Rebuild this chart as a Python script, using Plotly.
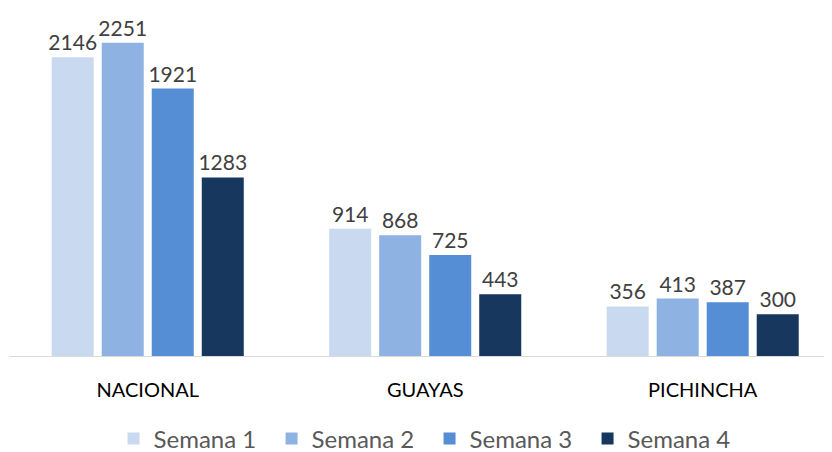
import plotly.graph_objects as go

categories = ["NACIONAL", "GUAYAS", "PICHINCHA"]
series_names = ["Semana 1", "Semana 2", "Semana 3", "Semana 4"]
semana_1 = [2146, 914, 356]
semana_2 = [2251, 868, 413]
semana_3 = [1921, 725, 387]
semana_4 = [1283, 443, 300]

colors = ["#C9D9F0", "#8EB3E3", "#558ED5", "#17375E"]
font_family = "Lato, 'Open Sans', sans-serif"

fig = go.Figure()
for name, values, color in zip(
    series_names, [semana_1, semana_2, semana_3, semana_4], colors
):
    fig.add_trace(
        go.Bar(
            name=name,
            x=categories,
            y=values,
            marker=dict(color=color, line=dict(width=0)),
            text=[str(v) for v in values],
            textposition="outside",
            constraintext="none",
            textfont=dict(size=21, color="#404040", family=font_family),
            cliponaxis=False,
        )
    )

# page body has an 8px margin, so the figure is drawn 8px smaller
fig.update_layout(
    width=824,
    height=444,
    margin=dict(l=1, r=0, t=0, b=96, autoexpand=False),
    paper_bgcolor="white",
    plot_bgcolor="white",
    barmode="group",
    bargap=0.279,
    bargroupgap=0.16,
    font=dict(family=font_family),
    legend=dict(
        orientation="h",
        x=0.511,
        xanchor="center",
        y=-0.238,
        yanchor="middle",
        font=dict(size=24, color="#595959", family=font_family),
        itemwidth=30,
        entrywidth=113,
        entrywidthmode="pixels",
        traceorder="normal",
    ),
    xaxis=dict(
        range=[-0.5, 2.466],
        automargin=False,
        showline=True,
        linecolor="#D9D9D9",
        linewidth=1,
        ticks="",
        tickfont=dict(size=20, color="#000000", family=font_family),
        ticklabelstandoff=16,
    ),
    yaxis=dict(
        range=[0, 2500],
        automargin=False,
        visible=False,
        showgrid=False,
    ),
)

fig.write_html("out.html")
